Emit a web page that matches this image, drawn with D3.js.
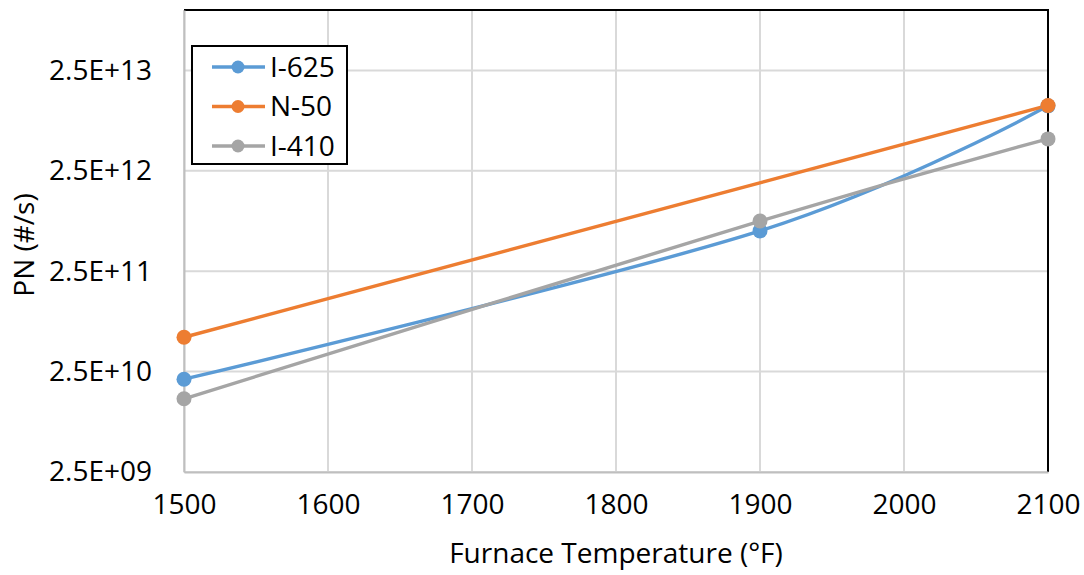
<!DOCTYPE html>
<html>
<head>
<meta charset="utf-8">
<script src="https://cdn.jsdelivr.net/npm/d3@7"></script>
<style>
    body { margin: 0; background: #fff; }
    text { font-family: "Open Sans", sans-serif; fill: #000; }
</style>
</head>
<body>
<div class="data_figure"></div>
<script>
// furnace temperature (F) and particle number (#/s)
const temps = [1500, 1900, 2100];
const seriesNames = ["I-625", "N-50", "I-410"];
const i625 = [2.1e10, 6.3e11, 1.11e13];
const n50 = [5.5e10, null, 1.12e13];
const i410 = [1.34e10, 7.9e11, 5.2e12];
const xTicks = [1500, 1600, 1700, 1800, 1900, 2000, 2100];
const yTicks = [2.5e9, 2.5e10, 2.5e11, 2.5e12, 2.5e13];
const yDomain = [2.5e9, 1e14];

const colors = ["#5B9BD5", "#ED7D31", "#A5A5A5"];

const width = 1084, height = 575;
const pLeft = 184, pRight = 1048, pTop = 10, pBottom = 472;
const fontSize = 28;

const fmtSci = (v) => {
    let e = Math.floor(Math.log10(v) + 1e-9);
    let m = v / Math.pow(10, e);
    return m.toFixed(1) + "E+" + (e < 10 ? "0" + e : e);
};

const xScale = d3.scaleLinear().domain([1500, 2100]).range([pLeft, pRight]);
const yScale = d3.scaleLog().domain(yDomain).range([pBottom, pTop]);

let svg = d3.select(".data_figure")
    .append("svg")
    .attr("width", width)
    .attr("height", height);

// gridlines
svg.append("g")
    .selectAll("line")
    .data(yTicks)
    .enter()
    .append("line")
    .attr("x1", pLeft).attr("x2", pRight)
    .attr("y1", d => yScale(d)).attr("y2", d => yScale(d))
    .attr("stroke", "#D9D9D9").attr("stroke-width", 2);

svg.append("g")
    .selectAll("line")
    .data(xTicks)
    .enter()
    .append("line")
    .attr("x1", d => xScale(d)).attr("x2", d => xScale(d))
    .attr("y1", pTop).attr("y2", pBottom)
    .attr("stroke", "#D9D9D9").attr("stroke-width", 2);

// plot area border (top / right black)
svg.append("path")
    .attr("d", `M${pLeft},${pTop}H${pRight}V${pBottom}`)
    .attr("fill", "none")
    .attr("stroke", "#000")
    .attr("stroke-width", 2);

// axes
const xAxis = svg.append("g")
    .attr("transform", "translate(0," + pBottom + ")")
    .call(d3.axisBottom(xScale).tickValues(xTicks).tickSize(0).tickPadding(22).tickFormat(d3.format("d")));
const yAxis = svg.append("g")
    .attr("transform", "translate(" + pLeft + ",0)")
    .call(d3.axisLeft(yScale).tickValues(yTicks).tickSize(0).tickPadding(32).tickFormat(fmtSci));

[xAxis, yAxis].forEach(ax => {
    ax.select(".domain").attr("stroke", "#BFBFBF").attr("stroke-width", 2);
    ax.selectAll("text").attr("font-size", fontSize).attr("font-family", "Open Sans").attr("fill", "#000");
});

// series
const allSeries = [i625, n50, i410].map((vals, k) => ({
    name: seriesNames[k],
    color: colors[k],
    points: temps.map((t, i) => ({ t: t, v: vals[i] })).filter(p => p.v != null)
}));

const line = d3.line()
    .x(d => xScale(d.t))
    .y(d => yScale(d.v))
    .curve(d3.curveCardinal.tension(0));

allSeries.forEach(s => {
    svg.append("path")
        .datum(s.points)
        .attr("d", line)
        .attr("fill", "none")
        .attr("stroke", s.color)
        .attr("stroke-width", 3.4);
});

allSeries.forEach(s => {
    svg.append("g")
        .selectAll("circle")
        .data(s.points)
        .enter()
        .append("circle")
        .attr("cx", d => xScale(d.t))
        .attr("cy", d => yScale(d.v))
        .attr("r", 7.5)
        .attr("fill", s.color);
});

// axis titles
svg.append("text")
    .text("Furnace Temperature (°F)")
    .attr("x", (pLeft + pRight) / 2)
    .attr("y", 563)
    .attr("text-anchor", "middle")
    .attr("font-size", fontSize);

svg.append("text")
    .text("PN (#/s)")
    .attr("transform", "translate(34," + ((pTop + pBottom) / 2 + 4) + ") rotate(-90)")
    .attr("text-anchor", "middle")
    .attr("font-size", fontSize);

// legend
let legend = svg.append("g");
legend.append("rect")
    .attr("x", 192).attr("y", 46)
    .attr("width", 155).attr("height", 118)
    .attr("fill", "#fff")
    .attr("stroke", "#000")
    .attr("stroke-width", 2);

allSeries.forEach((s, k) => {
    let ly = 67 + k * 39.5;
    legend.append("line")
        .attr("x1", 212).attr("x2", 265)
        .attr("y1", ly).attr("y2", ly)
        .attr("stroke", s.color).attr("stroke-width", 3.4);
    legend.append("circle")
        .attr("cx", 238).attr("cy", ly).attr("r", 6.5)
        .attr("fill", s.color);
    legend.append("text")
        .text(s.name)
        .attr("x", 270).attr("y", ly)
        .attr("dy", "0.35em")
        .attr("font-size", fontSize);
});
</script>
</body>
</html>
